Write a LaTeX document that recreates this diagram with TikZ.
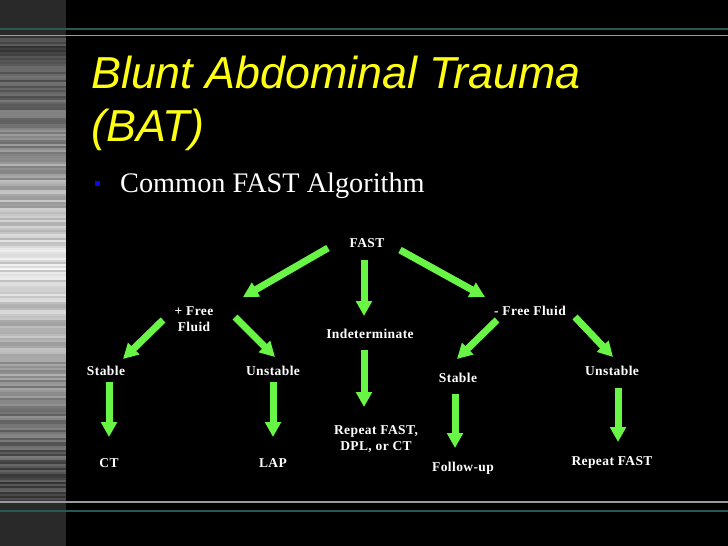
\documentclass[tikz,border=0pt]{standalone}
\usepackage{fontspec}
\setmainfont{Liberation Serif}
\newfontfamily\titlefont{Liberation Sans}
\newfontfamily\flowfont[LetterSpace=3]{Liberation Serif}
\usetikzlibrary{arrows.meta}
\definecolor{arrowgreen}{RGB}{105,245,70}
\definecolor{titleyellow}{RGB}{255,255,20}
\definecolor{ruleteal}{RGB}{40,88,84}
\definecolor{rulegray}{RGB}{155,155,155}
\definecolor{bulletblue}{RGB}{10,10,235}

\begin{document}
\begin{tikzpicture}[x=1pt,y=-1pt,
  flow/.style={text=white,inner sep=0pt,align=center,font=\flowfont\bfseries\fontsize{13.5}{16}\selectfont},
  greenarrow/.style={draw=arrowgreen,line width=7pt,-{Triangle[width=15.5pt,length=15pt]}}]
\useasboundingbox (0,0) rectangle (728,546);
\fill[black] (0,0) rectangle (728,546);
\fill[black!84] (0,0) rectangle (66,546);
\pgfmathsetseed{7}
\foreach \y in {36,38,...,500}{
  \pgfmathsetmacro\lev{max(20,min(100,98-62*abs(\y-268)/232-22*rnd))}
  \fill[white!\lev!black] (0,\y) rectangle (66,\y+2.2);
}
\draw[ruleteal,line width=1.6pt] (0,29) -- (728,29);
\draw[rulegray,line width=1.6pt] (0,35.5) -- (728,35.5);
\draw[rulegray,line width=1.6pt] (0,502) -- (728,502);
\draw[ruleteal,line width=1.6pt] (0,511) -- (728,511);

\node[anchor=base west,inner sep=0pt,text=titleyellow,font=\titlefont\itshape\fontsize{44.8}{53}\selectfont] (title) at (91,88) {Blunt Abdominal Trauma};
\node[anchor=base west,inner sep=0pt,text=titleyellow,font=\titlefont\itshape\fontsize{44.8}{53}\selectfont] (titlebat) at (91,141) {(BAT)};
\fill[bulletblue] (95,181) rectangle (100,186);
\node[anchor=base west,inner sep=0pt,text=white,font=\fontsize{28.3}{34}\selectfont] (subtitle) at (120,192) {Common FAST Algorithm};

\node[flow] (fast) at (367,243) {FAST};
\node[flow] (pff) at (194,319) {+ Free\\Fluid};
\node[flow] (indet) at (370,334) {Indeterminate};
\node[flow] (mff) at (530,311) {- Free Fluid};
\node[flow] (lstable) at (106,371) {Stable};
\node[flow] (lunstable) at (273,371) {Unstable};
\node[flow] (rstable) at (458,378) {Stable};
\node[flow] (runstable) at (612,371) {Unstable};
\node[flow] (ct) at (109,463) {CT};
\node[flow] (lap) at (273,463) {LAP};
\node[flow] (repeat) at (376,439) {Repeat FAST,\\DPL, or CT};
\node[flow] (followup) at (463,468) {Follow-up};
\node[flow] (repfast) at (612,462) {Repeat FAST};

\draw[greenarrow] ([shift={(-39,5)}]fast.center) -- ([shift={(49,-22)}]pff.center);
\draw[greenarrow] ([shift={(-3,17)}]fast.center) -- ([shift={(-6,-18)}]indet.center);
\draw[greenarrow] ([shift={(33,7)}]fast.center) -- ([shift={(-45,-14)}]mff.center);
\draw[greenarrow] ([shift={(-31,1)}]pff.center) -- ([shift={(17,-12)}]lstable.center);
\draw[greenarrow] ([shift={(41,-2)}]pff.center) -- ([shift={(2,-14)}]lunstable.center);
\draw[greenarrow] ([shift={(-33,9)}]mff.center) -- ([shift={(-1,-19)}]rstable.center);
\draw[greenarrow] ([shift={(45,6)}]mff.center) -- ([shift={(1,-14)}]runstable.center);
\draw[greenarrow] ([shift={(-6,16)}]indet.center) -- ([shift={(-12,-32)}]repeat.center);
\draw[greenarrow] ([shift={(3,11)}]lstable.center) -- ([shift={(0,-26)}]ct.center);
\draw[greenarrow] ([shift={(0,11)}]lunstable.center) -- ([shift={(0,-26)}]lap.center);
\draw[greenarrow] ([shift={(-3,16)}]rstable.center) -- ([shift={(-8,-20)}]followup.center);
\draw[greenarrow] ([shift={(6,17)}]runstable.center) -- ([shift={(6,-20)}]repfast.center);
\end{tikzpicture}
\end{document}
